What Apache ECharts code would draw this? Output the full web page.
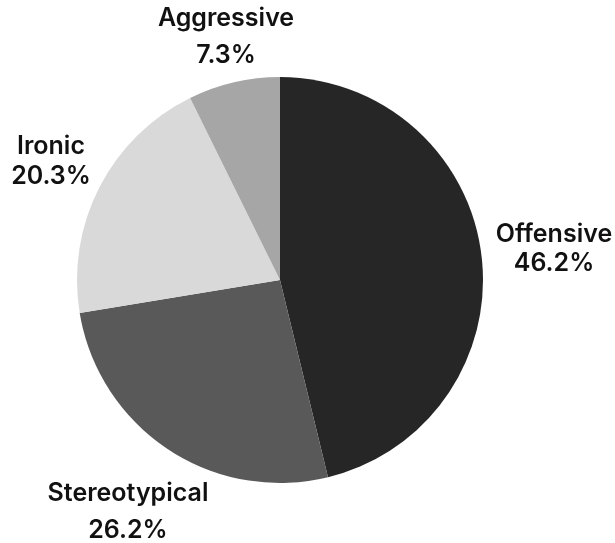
<!DOCTYPE html>
<html><head><meta charset="utf-8">
<script src="https://cdn.jsdelivr.net/npm/echarts@6/dist/echarts.min.js"></script>
<style>html,body{margin:0;padding:0;background:#fff}#c{width:615px;height:543px}</style>
</head><body><div id="c"></div>
<script>
const categories = ['Offensive', 'Stereotypical', 'Ironic', 'Aggressive'];
const shares = [46.2, 26.2, 20.3, 7.3];
const colors = ['#262626', '#595959', '#d9d9d9', '#a6a6a6'];

const labelAnchors = [[554, 249], [128, 512], [51, 161], [226, 37]];
const labelLineHeights = [29, 37, 30, 37];

const chart = echarts.init(document.getElementById('c'));
chart.setOption({
  animation: false,
  series: [{
    type: 'pie',
    center: [280, 280],
    radius: 203,
    startAngle: 90,
    clockwise: true,
    data: categories.map((n, i) => ({
      name: n, value: shares[i],
      itemStyle: { color: colors[i] },
      label: { lineHeight: labelLineHeights[i] }
    })),
    label: {
      show: true,
      position: 'outside',
      alignTo: 'none',
      overflow: 'none',
      formatter: p => p.name + '\n' + p.value.toFixed(1) + '%',
      fontFamily: 'Inter',
      fontWeight: 600,
      fontSize: 25,
      color: '#111',
      align: 'center'
    },
    labelLine: { show: false },
    labelLayout: p => ({
      x: labelAnchors[p.dataIndex][0],
      y: labelAnchors[p.dataIndex][1],
      align: 'center',
      verticalAlign: 'middle'
    }),
    emphasis: { disabled: true }
  }]
});
</script></body></html>
